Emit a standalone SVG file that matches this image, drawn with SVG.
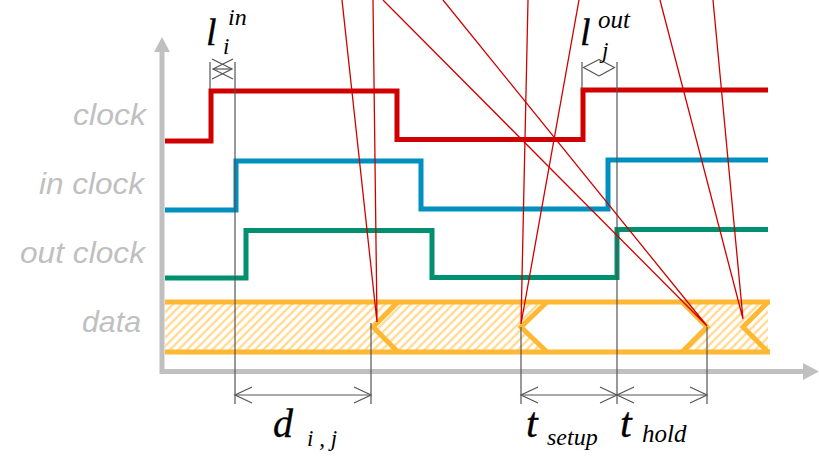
<svg xmlns="http://www.w3.org/2000/svg" width="819" height="459" viewBox="0 0 819 459">
<style>
.lbl{font-family:"Liberation Sans",Arial,sans-serif;font-style:italic;fill:#c0c0c0;font-size:29px;text-anchor:end}
.m{font-family:"Liberation Serif","Times New Roman",serif;font-style:italic;fill:#000}
.b{stroke:#000;stroke-width:0.3}
.sig{fill:none;stroke-width:5;stroke-linejoin:miter;stroke-linecap:butt}
.dim{stroke:#555;stroke-width:1.2;fill:none}
.call{stroke:#d00000;stroke-width:1.3;fill:none}
.band{stroke:#ffb833;stroke-width:5;fill:none;stroke-linejoin:miter}
</style>
<defs>
<pattern id="hatch" width="6" height="6" patternUnits="userSpaceOnUse" patternTransform="rotate(45)">
<rect width="6" height="6" fill="#fff"/>
<line x1="1.5" y1="0" x2="1.5" y2="6" stroke="#ffd47f" stroke-width="2"/>
</pattern>
</defs>
<rect width="819" height="459" fill="#fff"/>
<g id="axes">
<line x1="162" y1="374" x2="162" y2="50" stroke="#c0c0c0" stroke-width="5"/>
<polygon points="154,52 162,37 170,52" fill="#c0c0c0"/>
<line x1="160" y1="371.5" x2="806" y2="371.5" stroke="#c0c0c0" stroke-width="5"/>
<polygon points="803,363 819,371.5 803,380" fill="#c0c0c0"/>
</g>
<g id="labels">
<text class="lbl" x="146" y="125" textLength="73" lengthAdjust="spacingAndGlyphs">clock</text>
<text class="lbl" x="144" y="194" textLength="105" lengthAdjust="spacingAndGlyphs">in clock</text>
<text class="lbl" x="145" y="263" textLength="125" lengthAdjust="spacingAndGlyphs">out clock</text>
<text class="lbl" x="141" y="332" textLength="59" lengthAdjust="spacingAndGlyphs">data</text>
</g>
<g id="data">
<polygon points="165,302 768,302 768,352 165,352" fill="url(#hatch)"/>
<polygon points="521,327 547,302 682,302 707,327 682,352 547,352" fill="#fff"/>
<line class="band" x1="165" y1="302" x2="770" y2="302"/>
<line class="band" x1="165" y1="352" x2="770" y2="352"/>
<polyline class="band" points="398,302 373,327 398,352"/>
<polyline class="band" points="547,302 521,327 547,352"/>
<polyline class="band" points="682,302 707,327 682,352"/>
<polyline class="band" points="768,302 743,327 768,352"/>
</g>
<g id="clock"><polyline class="sig" stroke="#d00000" points="165,141 211,141 211,91 397,91 397,139.5 583,139.5 583,90 768,90"/></g>
<g id="inclock"><polyline class="sig" stroke="#0090c0" points="165,210 236,210 236,161 421,161 421,209 608,209 608,160 768,160"/></g>
<g id="outclock"><polyline class="sig" stroke="#009070" points="165,278 246,278 246,230.5 432,230.5 432,277.5 617,277.5 617,229.5 768,229.5"/></g>
<g id="connectors">
<line class="dim" x1="210" y1="62" x2="210" y2="89"/>
<line class="dim" x1="235" y1="62" x2="235" y2="404"/>
<line class="dim" x1="371" y1="323" x2="371" y2="404"/>
<line class="dim" x1="521" y1="327" x2="521" y2="404"/>
<line class="dim" x1="582" y1="62" x2="582" y2="89"/>
<line class="dim" x1="617" y1="62" x2="617" y2="404"/>
<line class="dim" x1="707" y1="327" x2="707" y2="404"/>
<line class="dim" x1="213" y1="69" x2="232" y2="69" stroke-width="1"/>
<polyline class="dim" stroke-width="1" points="233,59 213,69 233,79"/>
<polyline class="dim" stroke-width="1" points="212,59 232,69 212,79"/>
<polyline class="dim" stroke-width="1" points="599,59.5 583.5,67.5 599,76"/>
<polyline class="dim" stroke-width="1" points="599,59.5 614.5,67.5 599,76"/>
<line class="dim" x1="235" y1="395" x2="371" y2="395" stroke-width="1"/>
<polyline class="dim" stroke-width="1" points="252,387 235,395 252,403"/>
<polyline class="dim" stroke-width="1" points="354,387 371,395 354,403"/>
<line class="dim" x1="521" y1="395" x2="617" y2="395" stroke-width="1"/>
<polyline class="dim" stroke-width="1" points="538,387 521,395 538,403"/>
<polyline class="dim" stroke-width="1" points="600,387 617,395 600,403"/>
<line class="dim" x1="617" y1="395" x2="707" y2="395" stroke-width="1"/>
<polyline class="dim" stroke-width="1" points="634,387 617,395 634,403"/>
<polyline class="dim" stroke-width="1" points="690,387 707,395 690,403"/>
<polyline class="call" points="342,0 377,322 373,0"/>
<polyline class="call" points="528,0 521,324 579,0"/>
<polyline class="call" points="383,0 707,326 443,0"/>
<polyline class="call" points="660,0 743,319 713,0"/>
</g>
<g id="math">
<text class="m b" x="206" y="45" font-size="38">l</text>
<text class="m" x="228" y="25" font-size="24">in</text>
<text class="m" x="223" y="54" font-size="23">i</text>
<text class="m b" x="580" y="45" font-size="38">l</text>
<text class="m" x="598" y="28" font-size="25">out</text>
<text class="m" x="602" y="58" font-size="23">j</text>
<text class="m b" x="273" y="437" font-size="40">d</text>
<text class="m" x="307" y="446" font-size="23">i , j</text>
<text class="m b" x="526" y="437" font-size="42">t</text>
<text class="m" x="547" y="445" font-size="24">setup</text>
<text class="m b" x="620" y="437" font-size="42">t</text>
<text class="m" x="642" y="442" font-size="25">hold</text>
</g>
</svg>
